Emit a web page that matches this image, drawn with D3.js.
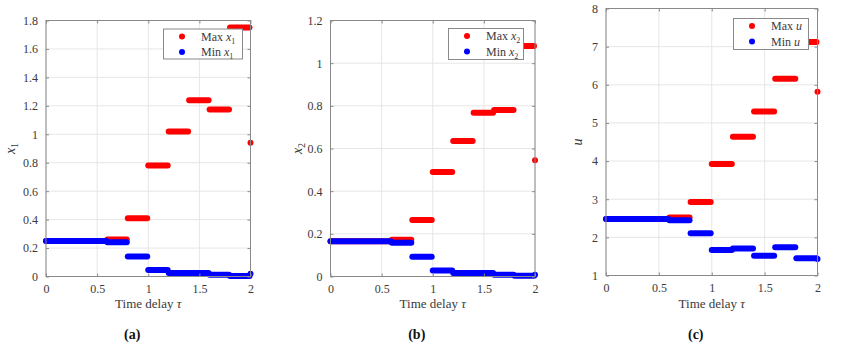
<!DOCTYPE html>
<html>
<head>
<meta charset="utf-8">
<script src="https://cdn.jsdelivr.net/npm/d3@7"></script>
<style>
  body { margin: 0; background: white; }
  svg text { font-family: "Liberation Serif", "Times New Roman", Tinos, "DejaVu Serif", "Noto Serif", Times, serif !important; }
</style>
</head>
<body>
<div id="chart"></div>
<script>
// tau intervals (each sampled at 0.01 in the original, drawn as dense dots)
const tauStart = [0, 0.6, 0.8, 1.0, 1.2, 1.4, 1.6, 1.8, 2.0];
const tauEnd   = [0.59, 0.79, 0.99, 1.19, 1.39, 1.59, 1.79, 1.99, 2.0];

const maxX1 = [0.25, 0.26, 0.41, 0.78, 1.02, 1.24, 1.175, 1.75, 0.94];
const minX1 = [0.25, 0.24, 0.14, 0.045, 0.025, 0.025, 0.012, 0.003, 0.02];

const maxX2 = [0.165, 0.172, 0.265, 0.49, 0.635, 0.768, 0.78, 1.08, 0.545];
const minX2 = [0.165, 0.158, 0.092, 0.028, 0.016, 0.016, 0.008, 0.004, 0.008];

const maxU = [2.48, 2.52, 2.93, 3.92, 4.64, 5.30, 6.16, 7.12, 5.82];
const minU = [2.48, 2.45, 2.11, 1.67, 1.71, 1.52, 1.74, 1.45, 1.43];

const xTicks = [0, 0.5, 1, 1.5, 2];
const x1Ticks = [0, 0.2, 0.4, 0.6, 0.8, 1, 1.2, 1.4, 1.6, 1.8];
const x2Ticks = [0, 0.2, 0.4, 0.6, 0.8, 1, 1.2];
const uTicks = [1, 2, 3, 4, 5, 6, 7, 8];

const svg = d3.select("#chart").append("svg")
    .attr("width", 853)
    .attr("height", 348);

const panels = [
    {left: 46, right: 250.5, top: 20.5, bottom: 276.5, yDom: [0, 1.8], yTicks: x1Ticks,
     maxV: maxX1, minV: minX1, sym: "x", sub: "1", tag: "(a)", labOff: 31,
     legend: {x: 163, y: 29, w: 79, h: 30}},
    {left: 330.5, right: 535, top: 20.5, bottom: 276.5, yDom: [0, 1.2], yTicks: x2Ticks,
     maxV: maxX2, minV: minX2, sym: "x", sub: "2", tag: "(b)", labOff: 29,
     legend: {x: 448, y: 28.5, w: 75, h: 31}},
    {left: 606, right: 817.5, top: 8.5, bottom: 275.5, yDom: [1, 8], yTicks: uTicks,
     maxV: maxU, minV: minU, sym: "u", sub: null, tag: "(c)", labOff: 24,
     legend: {x: 733, y: 18.5, w: 75, h: 31}}
];

const axisCol = "#8a8a8a";
const textCol = "#3a3a3a";
const fmt = d3.format("~g");

function addSymbol(t, p, subSize) {
    t.append("tspan").attr("font-style", "italic").text(p.sym);
    if (p.sub) {
        t.append("tspan").attr("font-size", subSize).attr("dy", 3).text(p.sub);
    }
}

for (let p of panels) {
    let x = d3.scaleLinear([0, 2], [p.left, p.right]);
    let y = d3.scaleLinear(p.yDom, [p.bottom, p.top]);
    let g = svg.append("g");

    // grid
    g.selectAll(".gx").data(xTicks).enter().append("line")
        .attr("x1", d => x(d)).attr("x2", d => x(d))
        .attr("y1", p.top).attr("y2", p.bottom)
        .attr("stroke", "#e6e6e6").attr("stroke-width", 1);
    g.selectAll(".gy").data(p.yTicks).enter().append("line")
        .attr("x1", p.left).attr("x2", p.right)
        .attr("y1", d => y(d)).attr("y2", d => y(d))
        .attr("stroke", "#e6e6e6").attr("stroke-width", 1);

    // data: max (red) then min (blue) on top
    let segs = (vals) => vals.map((v, i) => ({a: tauStart[i], b: tauEnd[i], v: v}));
    for (let [vals, col] of [[p.maxV, "#ff0000"], [p.minV, "#0000ff"]]) {
        g.selectAll(null).data(segs(vals)).enter().append("line")
            .attr("x1", d => x(d.a)).attr("x2", d => x(d.b))
            .attr("y1", d => y(d.v)).attr("y2", d => y(d.v))
            .attr("stroke", col)
            .attr("stroke-width", 6)
            .attr("stroke-linecap", "round");
    }

    // axes box
    g.append("rect")
        .attr("x", p.left).attr("y", p.top)
        .attr("width", p.right - p.left).attr("height", p.bottom - p.top)
        .attr("fill", "none").attr("stroke", axisCol).attr("stroke-width", 1);

    let xAxis = d3.axisBottom(x).tickValues(xTicks).tickSizeInner(-3).tickSizeOuter(0).tickPadding(8)
        .tickFormat(fmt);
    g.append("g").attr("transform", `translate(0, ${p.bottom})`).call(xAxis);
    let xAxisTop = d3.axisTop(x).tickValues(xTicks).tickSizeInner(-3).tickSizeOuter(0).tickFormat("");
    g.append("g").attr("transform", `translate(0, ${p.top})`).call(xAxisTop);

    let yAxis = d3.axisLeft(y).tickValues(p.yTicks).tickSizeInner(-3).tickSizeOuter(0).tickPadding(8)
        .tickFormat(fmt);
    g.append("g").attr("transform", `translate(${p.left}, 0)`).call(yAxis);
    let yAxisR = d3.axisRight(y).tickValues(p.yTicks).tickSizeInner(-3).tickSizeOuter(0).tickFormat("");
    g.append("g").attr("transform", `translate(${p.right}, 0)`).call(yAxisR);

    g.selectAll(".domain").remove();
    g.selectAll("g").attr("font-family", null);
    g.selectAll(".tick line").attr("stroke", axisCol);
    g.selectAll(".tick text")
        .attr("fill", textCol)
        .style("font-size", "12px");

    // axis titles
    let cx = (p.left + p.right) / 2;
    let xt = g.append("text")
        .attr("x", cx).attr("y", 308)
        .attr("text-anchor", "middle")
        .attr("fill", textCol)
        .style("font-size", "13px");
    xt.append("tspan").text("Time delay ");
    xt.append("tspan").attr("font-style", "italic").text("τ");

    let yt = g.append("text")
        .attr("transform", `translate(${p.left - p.labOff}, ${(p.top + p.bottom) / 2}) rotate(-90)`)
        .attr("text-anchor", "middle")
        .attr("fill", textCol)
        .style("font-size", "14px");
    addSymbol(yt, p, "10px");

    g.append("text")
        .attr("x", cx - 16).attr("y", 339)
        .attr("text-anchor", "middle")
        .attr("fill", "#111")
        .attr("font-weight", "bold")
        .style("font-size", "14px")
        .text(p.tag);

    // legend
    let L = p.legend;
    let lg = g.append("g");
    lg.append("rect")
        .attr("x", L.x + 0.5).attr("y", L.y)
        .attr("width", L.w).attr("height", L.h)
        .attr("fill", "white").attr("stroke", axisCol).attr("stroke-width", 1);
    let rows = [["Max ", "#ff0000"], ["Min ", "#0000ff"]];
    rows.forEach((r, i) => {
        let ry = L.y + 7.5 + i * 15.5;
        lg.append("circle")
            .attr("cx", L.x + 19).attr("cy", ry)
            .attr("r", 3).attr("fill", r[1]);
        let t = lg.append("text")
            .attr("x", L.x + 38).attr("y", ry + 4)
            .attr("fill", textCol)
            .style("font-size", "12px");
        t.append("tspan").text(r[0]);
        addSymbol(t, p, "8px");
    });
}
</script>
</body>
</html>
